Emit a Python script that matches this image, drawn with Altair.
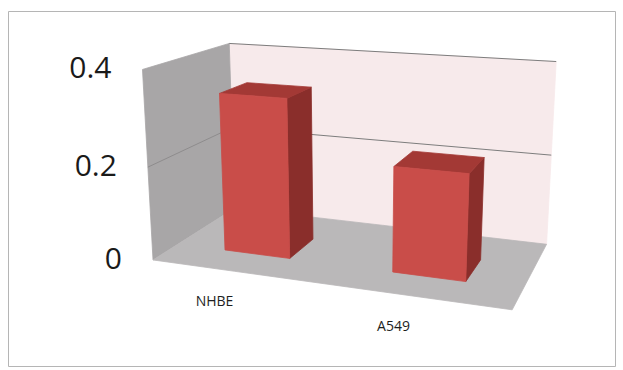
import math

import altair as alt
import pandas as pd

# ---- chart values -------------------------------------------------------
categories = ["NHBE", "A549"]
values = [0.34, 0.22]
tick_values = [0.0, 0.2, 0.4]
tick_labels = ["0", "0.2", "0.4"]
y_max = 0.4

# ---- 3-D scene and camera -----------------------------------------------
FLOOR_W = 363.0            # width of the floor (world units)
DEPTH = 0.5 * FLOOR_W      # depth of the floor
WALL_H = 193.0             # wall height, i.e. y_max
BAR_FRAC = 0.4             # bar width as a share of a category slot
BAR_Z0, BAR_Z1 = 0.28, 0.62  # bar front / back as shares of the depth
ROT_X, ROT_Y = 20.0, 15.0  # rotation about the vertical axis, tilt
DIST = 1000.0              # perspective distance
CX, CY = 346.1, 205.0      # where the scene centre lands in the view

PLOT_W, PLOT_H = 607, 355

COL_BACK = "#f7eaeb"
COL_LEFT = "#a8a6a7"
COL_FLOOR = "#bab8b9"
COL_FRONT = "#c94d49"
COL_TOP = "#a33935"
COL_SIDE = "#8a2e2b"


def height(v):
    return v / y_max * WALL_H


def project(u, v, w):
    """World (u across, v up, w into the page) -> view coordinates."""
    X, Y, Z = u - FLOOR_W / 2, v - WALL_H / 2, w - DEPTH / 2
    th, ph = math.radians(ROT_X), math.radians(ROT_Y)
    x1 = math.cos(th) * X + math.sin(th) * Z
    z1 = math.cos(th) * Z - math.sin(th) * X
    y2 = math.cos(ph) * Y + math.sin(ph) * z1
    z2 = math.cos(ph) * z1 - math.sin(ph) * Y
    s = DIST / (DIST + z2)
    return CX + x1 * s, CY + y2 * s


def slices(face, color, pts3d):
    """Cut a convex face into vertical slices an area mark can fill."""
    pts = [project(*p) for p in pts3d]
    xs = sorted(set(x for x, _ in pts))
    rows = []
    n = len(pts)
    for x in xs:
        ys = []
        for k in range(n):
            (px, py), (qx, qy) = pts[k], pts[(k + 1) % n]
            lo, hi = min(px, qx), max(px, qx)
            if lo - 1e-9 <= x <= hi + 1e-9:
                if abs(qx - px) < 1e-9:
                    ys += [py, qy]
                else:
                    t = (x - px) / (qx - px)
                    ys.append(py + t * (qy - py))
        rows.append({"face": face, "color": color,
                     "x": x, "y": min(ys), "y2": max(ys)})
    return rows


W, D, H = FLOOR_W, DEPTH, WALL_H

wall_rows = []
wall_rows += slices("back", COL_BACK, [(0, 0, D), (W, 0, D), (W, H, D), (0, H, D)])
wall_rows += slices("left", COL_LEFT, [(0, 0, 0), (0, 0, D), (0, H, D), (0, H, 0)])
wall_rows += slices("floor", COL_FLOOR, [(0, 0, 0), (W, 0, 0), (W, 0, D), (0, 0, D)])

grid_rows = []
for t in tick_values[1:]:
    h = height(t)
    for k, p in enumerate(((0, h, D), (W, h, D))):
        x, y = project(*p)
        grid_rows.append({"line": f"back{t}", "k": k, "x": x, "y": y,
                          "color": "#7d7d7d"})
for t in tick_values[1:-1]:
    h = height(t)
    for k, p in enumerate(((0, h, 0), (0, h, D))):
        x, y = project(*p)
        grid_rows.append({"line": f"left{t}", "k": k, "x": x, "y": y,
                          "color": "#8e8c8d"})

side_rows, top_rows, front_rows = [], [], []
slot = W / len(categories)
z0, z1 = BAR_Z0 * D, BAR_Z1 * D
for c, (cat, val) in enumerate(zip(categories, values)):
    centre = slot * (c + 0.5)
    x0, x1 = centre - slot * BAR_FRAC / 2, centre + slot * BAR_FRAC / 2
    h = height(val)
    front_rows += slices(cat + "-front", COL_FRONT,
                         [(x0, 0, z0), (x1, 0, z0), (x1, h, z0), (x0, h, z0)])
    top_rows += slices(cat + "-top", COL_TOP,
                       [(x0, h, z0), (x1, h, z0), (x1, h, z1), (x0, h, z1)])
    side_rows += slices(cat + "-side", COL_SIDE,
                        [(x1, 0, z0), (x1, 0, z1), (x1, h, z1), (x1, h, z0)])

tick_rows = []
for t, lab in zip(tick_values, tick_labels):
    x, y = project(0, height(t), 0)
    tick_rows.append({"x": x, "y": y, "label": lab})

cat_rows = []
for c, cat in enumerate(categories):
    x, y = project(slot * (c + 0.5), 0, 0)
    cat_rows.append({"x": x, "y": y, "label": cat})

# ---- Altair layers ------------------------------------------------------
xs = alt.Scale(domain=[0, PLOT_W], nice=False, zero=False)
ys = alt.Scale(domain=[0, PLOT_H], nice=False, zero=False)


def faces(rows):
    return alt.Chart(pd.DataFrame(rows)).mark_area(
        interpolate="linear", strokeWidth=0.8, orient="vertical"
    ).encode(
        x=alt.X("x:Q", scale=xs, axis=None),
        y=alt.Y("y:Q", scale=ys, axis=None, stack=None),
        y2="y2:Q",
        detail="face:N",
        fill=alt.Fill("color:N", scale=None),
        stroke=alt.Stroke("color:N", scale=None),
    )


walls = faces(wall_rows)

grid = alt.Chart(pd.DataFrame(grid_rows)).mark_line(strokeWidth=1).encode(
    x=alt.X("x:Q", scale=xs, axis=None),
    y=alt.Y("y:Q", scale=ys, axis=None),
    detail="line:N",
    order=alt.Order("k:Q"),
    stroke=alt.Stroke("color:N", scale=None),
)

sides = faces(side_rows)
tops = faces(top_rows)
fronts = faces(front_rows)

tick_text = alt.Chart(pd.DataFrame(tick_rows)).mark_text(
    align="right", baseline="middle", dx=-31, font="Open Sans",
    fontSize=30, color="#1a1a1a"
).encode(
    x=alt.X("x:Q", scale=xs, axis=None),
    y=alt.Y("y:Q", scale=ys, axis=None),
    text="label:N",
)

cat_text = alt.Chart(pd.DataFrame(cat_rows)).mark_text(
    align="center", baseline="middle", dx=-20, dy=31, font="Open Sans",
    fontSize=14, color="#1e1e1e"
).encode(
    x=alt.X("x:Q", scale=xs, axis=None),
    y=alt.Y("y:Q", scale=ys, axis=None),
    text="label:N",
)

chart = alt.layer(
    walls, grid, sides, tops, fronts, tick_text, cat_text
).properties(
    width=PLOT_W,
    height=PLOT_H,
    padding={"left": 8, "top": 11, "right": 8, "bottom": 4},
    autosize=alt.AutoSizeParams(type="none"),
    background="white",
).configure_view(
    stroke="#b5b5b5", strokeWidth=1
)

chart.save("out.html", embed_options={"renderer": "svg", "actions": False})
